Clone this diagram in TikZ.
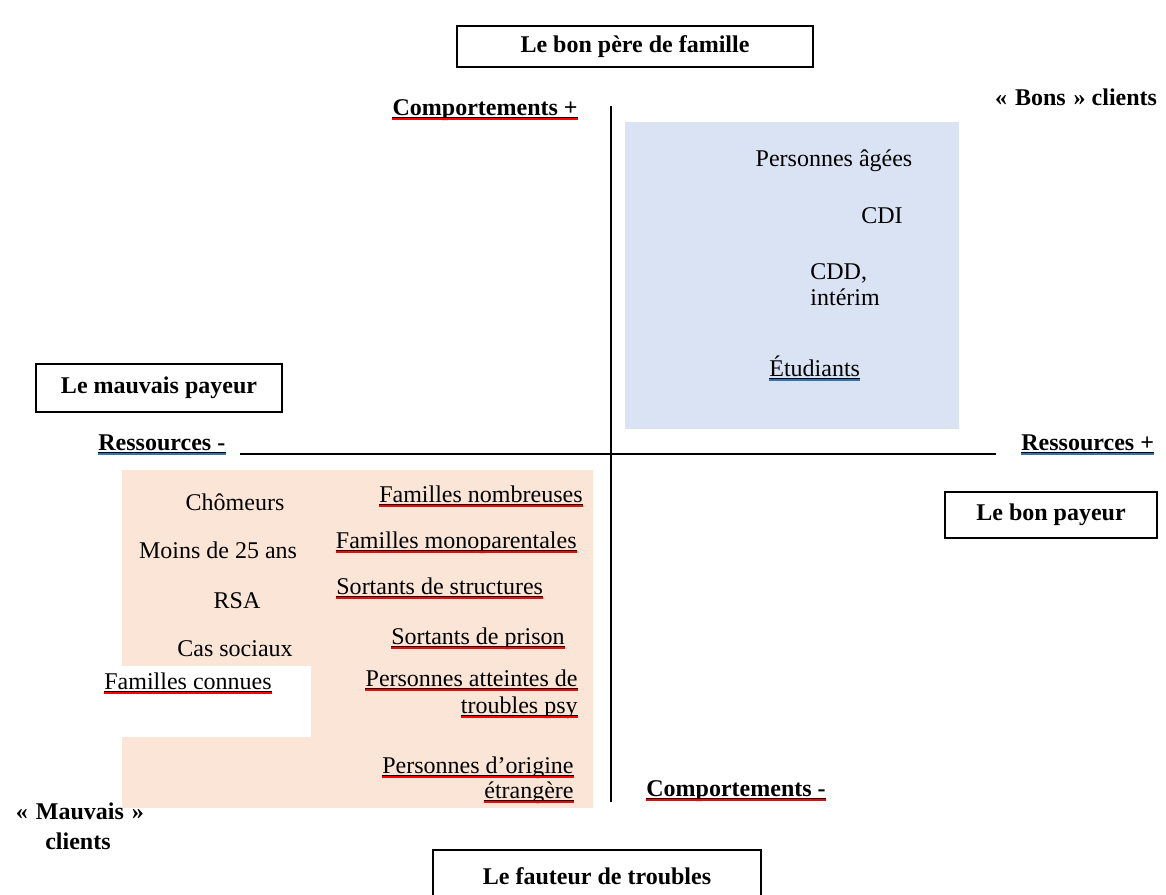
\documentclass[tikz,border=0pt]{standalone}
\usepackage{fontspec}
\setmainfont{Liberation Serif}
\definecolor{bleuzone}{HTML}{DAE3F3}
\definecolor{peche}{HTML}{FBE5D6}
\definecolor{bleutrait}{HTML}{2E75B6}
\newcommand{\taille}{\fontsize{12pt}{14.4pt}\selectfont}

\begin{document}
\begin{tikzpicture}[x=0.5pt,y=-0.5pt,font=\taille]
    \tikzset{
    cadre/.style={draw,line width=0.8pt,font=\taille\bfseries,inner sep=0pt},
    txt/.style={inner sep=0pt,anchor=base},
    titre/.style={txt,font=\taille\bfseries},
    souligne/.style={append after command={
        ([yshift=-1pt]\tikzlastnode.base west) edge[black,line width=0.4pt] ([yshift=-1pt]\tikzlastnode.base east)
        ([yshift=-1.9pt]\tikzlastnode.base west) edge[#1,line width=0.7pt] ([yshift=-1.9pt]\tikzlastnode.base east)}},
    souligne/.default=red,
    axe/.style={line width=0.6pt},
    }
    \useasboundingbox (0,0) rectangle (1166,894);

    % zones
    \fill[bleuzone] (625,122) rectangle (959,429);
    \fill[peche] (122,470) rectangle (593,808);
    \fill[white] (122,666) rectangle (311,737);

    % axes
    \coordinate (haut) at (611,106);
    \coordinate (bas) at (611,802);
    \coordinate (gauche) at (240,454);
    \coordinate (droite) at (996,454);
    \draw[axe] (haut) -- (bas);
    \draw[axe] (gauche) -- (droite);

    % cadres
    \node[cadre,minimum width=178pt,minimum height=20.5pt] (pere) at (635,46.5) {Le bon père de famille};
    \node[cadre,minimum width=123pt,minimum height=24pt] (mauvais) at (159,388) {Le mauvais payeur};
    \node[cadre,minimum width=106pt,minimum height=23pt] (bonpay) at (1051,515) {Le bon payeur};
    \node[cadre,minimum width=164pt,minimum height=26pt] (fauteur) at (597,876) {Le fauteur de troubles};

    % axes : libelles
    \node[titre,anchor=base east,souligne] (compplus) at (578,115) {Comportements +};
    \node[titre,anchor=base west,souligne] (compmoins) at (646,796) {Comportements -};
    \node[titre,anchor=base west,souligne=bleutrait] (resmoins) at (98,450) {Ressources -};
    \node[titre,anchor=base west,souligne=bleutrait] (resplus) at (1021,450) {Ressources +};
    \node[titre] (bons) at (1076,105) {«\hspace{1pt} Bons\hspace{1pt} » clients};
    \node[titre] (mauv1) at (80,819) {«\hspace{1pt} Mauvais\hspace{1pt} »};
    \node[titre] (mauv2) at (78,849) {clients};

    % bons clients
    \node[txt] (ages) at (834,166) {Personnes âgées};
    \node[txt] (cdi) at (882,223) {CDI};
    \node[txt,anchor=base west] (cdd) at (810,279) {CDD,};
    \node[txt,anchor=base west] (interim) at (810,305) {intérim};
    \node[txt,anchor=base west,souligne=bleutrait] (etud) at (769,376) {Étudiants~};

    % mauvais clients
    \node[txt] (chom) at (235,510) {Chômeurs};
    \node[txt] (moins) at (218,558) {Moins de 25 ans};
    \node[txt] (rsa) at (237,608) {RSA};
    \node[txt] (cas) at (235,656) {Cas sociaux};
    \node[txt,anchor=base west,souligne] (connues) at (104,689) {Familles connues~};
    \node[txt,anchor=base east,souligne] (nomb) at (583,502) {Familles nombreuses};
    \node[txt,anchor=base east,souligne] (mono) at (577,548) {Familles monoparentales};
    \node[txt,anchor=base west,souligne] (struct) at (336,594) {Sortants de structures};
    \node[txt,anchor=base east,souligne] (prison) at (565,644) {Sortants de prison};
    \node[txt,anchor=base east,souligne] (psy1) at (578,686) {Personnes atteintes de};
    \node[txt,anchor=base east,souligne] (psy2) at (578,713) {troubles psy};
    \node[txt,anchor=base east,souligne] (orig1) at (574,773) {Personnes d’origine};
    \node[txt,anchor=base east,souligne] (orig2) at (574,798) {étrangère};

\end{tikzpicture}
\end{document}
